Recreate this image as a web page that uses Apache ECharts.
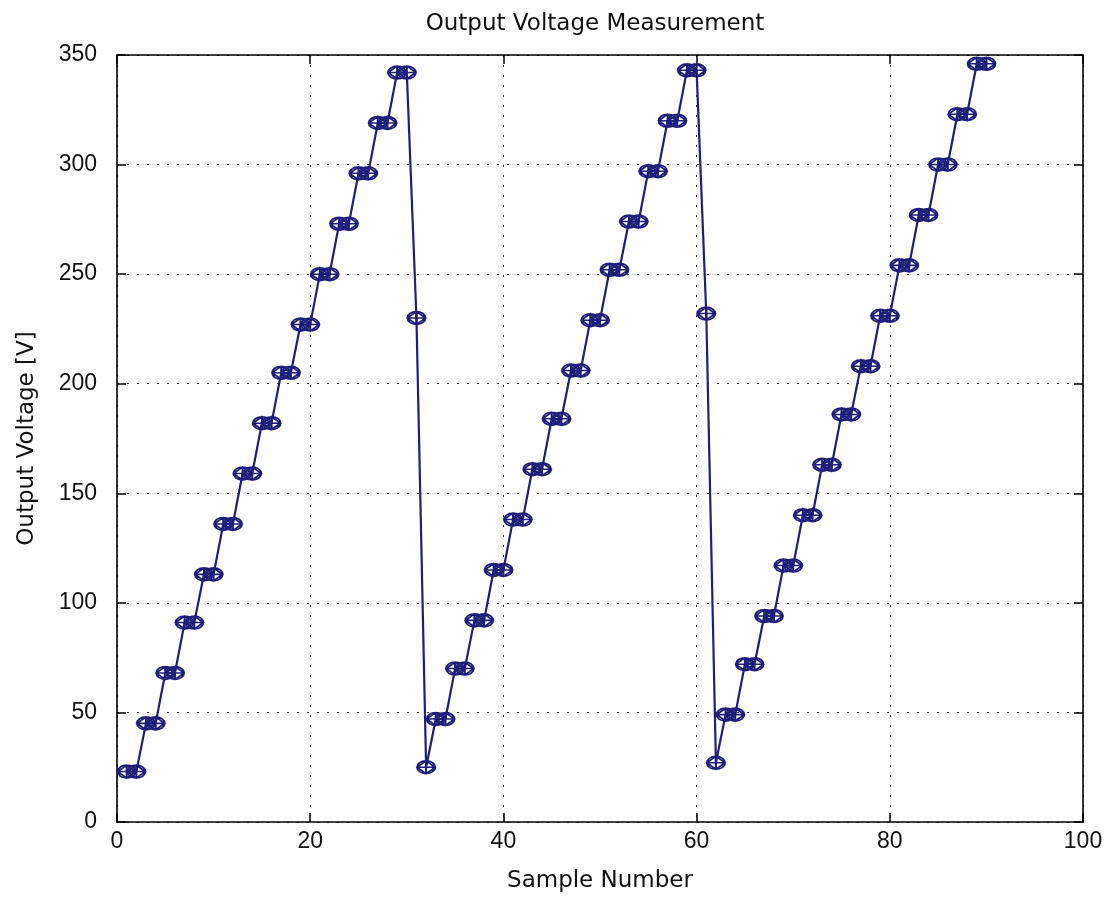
<!DOCTYPE html>
<html>
<head>
<meta charset="utf-8">
<script src="https://cdn.jsdelivr.net/npm/echarts@6/dist/echarts.min.js"></script>
<style>
html,body{margin:0;padding:0;background:#fff;}
#chart{width:1115px;height:903px;}
</style>
</head>
<body>
<div id="chart"></div>
<script>
var titleText = 'Output Voltage Measurement';
var xName = 'Sample Number';
var yName = 'Output Voltage [V]';
var xTicks = [0, 20, 40, 60, 80, 100];
var yTicks = [0, 50, 100, 150, 200, 250, 300, 350];

var samples = [];
for (var i = 1; i <= 90; i++) samples.push(i);

var voltages = [
  23, 23, 45, 45, 68, 68, 91, 91, 113, 113,
  136, 136, 159, 159, 182, 182, 205, 205, 227, 227,
  250, 250, 273, 273, 296, 296, 319, 319, 342, 342,
  230, 25, 47, 47, 70, 70, 92, 92, 115, 115,
  138, 138, 161, 161, 184, 184, 206, 206, 229, 229,
  252, 252, 274, 274, 297, 297, 320, 320, 343, 343,
  232, 27, 49, 49, 72, 72, 94, 94, 117, 117,
  140, 140, 163, 163, 186, 186, 208, 208, 231, 231,
  254, 254, 277, 277, 300, 300, 323, 323, 346, 346
];

var pts = samples.map(function (s, i) { return [s, voltages[i]]; });

var markerPath = 'path://M0,5 C0,2.24 3.58,0 8,0 C12.42,0 16,2.24 16,5 C16,7.76 12.42,10 8,10 C3.58,10 0,7.76 0,5 Z M0,5 L8,0 L16,5 L8,10 Z M0,5 L16,5 M8,0 L8,10';

var chart = echarts.init(document.getElementById('chart'));
var numFont = '"Liberation Sans", Arial, sans-serif';
var txtFont = '"DejaVu Sans", "Liberation Sans", sans-serif';
var gridStyle = { type: [2, 8], color: '#333', width: 1 };
var frame = { show: true, onZero: false, lineStyle: { color: '#000', width: 1.6 } };
var ticks = { show: true, inside: true, length: 9, lineStyle: { color: '#000', width: 1.5 } };

chart.setOption({
  animation: false,
  backgroundColor: '#fff',
  title: {
    text: titleText, left: 590, top: 8, textAlign: 'center',
    textStyle: { fontFamily: txtFont, fontSize: 23, fontWeight: 'normal', color: '#111' }
  },
  grid: { left: 117, right: 32, top: 55, bottom: 81 },
  xAxis: [{
    type: 'value', min: xTicks[0], max: xTicks[xTicks.length - 1], interval: 20,
    name: xName, nameLocation: 'middle', nameGap: 48,
    nameTextStyle: { fontFamily: txtFont, fontSize: 23, color: '#111' },
    axisLine: frame, axisTick: ticks,
    axisLabel: { fontFamily: numFont, fontSize: 23, color: '#111', margin: 8 },
    splitLine: { show: true, lineStyle: gridStyle }
  }, {
    type: 'value', position: 'top', min: xTicks[0], max: xTicks[xTicks.length - 1], interval: 20,
    axisLine: frame, axisTick: ticks,
    axisLabel: { show: false }, splitLine: { show: false }
  }],
  yAxis: [{
    type: 'value', min: yTicks[0], max: yTicks[yTicks.length - 1], interval: 50,
    name: yName, nameLocation: 'middle', nameGap: 78, nameRotate: 90,
    nameTextStyle: { fontFamily: txtFont, fontSize: 23, color: '#111' },
    axisLine: frame, axisTick: ticks,
    axisLabel: { fontFamily: numFont, fontSize: 23, color: '#111', margin: 20 },
    splitLine: { show: true, lineStyle: gridStyle }
  }, {
    type: 'value', position: 'right', min: yTicks[0], max: yTicks[yTicks.length - 1], interval: 50,
    axisLine: frame, axisTick: ticks,
    axisLabel: { show: false }, splitLine: { show: false }
  }],
  series: [{
    type: 'line',
    data: pts,
    xAxisIndex: 0, yAxisIndex: 0,
    symbol: markerPath,
    symbolSize: [18, 13],
    showAllSymbol: true,
    lineStyle: { color: '#1f1f7a', width: 2.2 },
    itemStyle: { color: 'rgba(0,0,0,0)', borderColor: '#1f1f7a', borderWidth: 1.8 }
  }]
});
</script>
</body>
</html>
